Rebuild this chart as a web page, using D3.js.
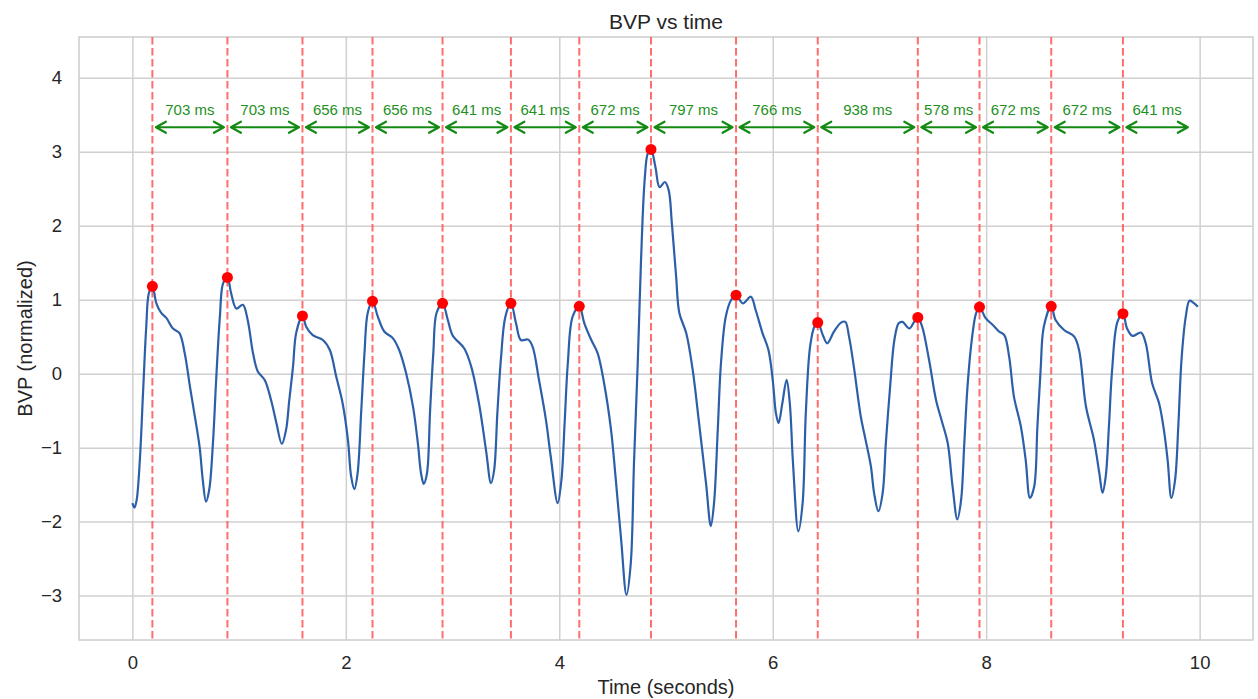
<!DOCTYPE html>
<html>
<head>
<meta charset="utf-8">
<script src="https://cdn.jsdelivr.net/npm/d3@7"></script>
<style>
  body { margin: 0; background: #fff; }
  svg { font-family: "Liberation Sans", Arial, sans-serif; }
</style>
</head>
<body>
<div id="chart"></div>
<script>
// peaks found in the BVP signal (seconds, normalized value)
const peakTimes = [0.1875, 0.890625, 1.59375, 2.25, 2.90625, 3.546875, 4.1875,
  4.859375, 5.65625, 6.421875, 7.359375, 7.9375, 8.609375, 9.28125];
const peakValues = [1.18, 1.30, 0.78, 0.98, 0.95, 0.95, 0.91, 3.03, 1.06, 0.69, 0.76, 0.90, 0.91, 0.81];
const intervalLabels = ["703 ms", "703 ms", "656 ms", "656 ms", "641 ms", "641 ms", "672 ms",
  "797 ms", "766 ms", "938 ms", "578 ms", "672 ms", "672 ms", "641 ms"];

// BVP trace
const signalTime = [0, 0.02, 0.04, 0.07, 0.10, 0.13, 0.155, 0.1875, 0.225, 0.27, 0.32, 0.38, 0.44, 0.49,
  0.54, 0.58, 0.63, 0.66, 0.69, 0.72, 0.755, 0.785, 0.82, 0.85, 0.890625, 0.925, 0.975, 1.035, 1.08,
  1.13, 1.175, 1.24, 1.30, 1.35, 1.40, 1.44, 1.47, 1.505, 1.535, 1.59375, 1.63, 1.69, 1.785, 1.85,
  1.91, 1.97, 2.02, 2.05, 2.08, 2.11, 2.145, 2.175, 2.205, 2.25, 2.30, 2.36, 2.44, 2.50, 2.565, 2.63,
  2.675, 2.705, 2.73, 2.76, 2.79, 2.82, 2.85, 2.90625, 2.955, 3.00, 3.11, 3.175, 3.25, 3.315, 3.36,
  3.39, 3.42, 3.455, 3.495, 3.546875, 3.595, 3.64, 3.71, 3.75, 3.81, 3.875, 3.92, 3.985, 4.02, 4.05,
  4.08, 4.125, 4.1875, 4.235, 4.30, 4.36, 4.42, 4.485, 4.53, 4.58, 4.63, 4.67, 4.70, 4.735, 4.765,
  4.80, 4.83, 4.859375, 4.90, 4.94, 4.99, 5.025, 5.055, 5.095, 5.125, 5.19, 5.25, 5.31, 5.375, 5.42,
  5.45, 5.485, 5.515, 5.56, 5.61, 5.65625, 5.72, 5.795, 5.84, 5.905, 5.96, 6.00, 6.03, 6.055, 6.09,
  6.13, 6.16, 6.19, 6.24, 6.28, 6.31, 6.35, 6.39, 6.421875, 6.47, 6.51, 6.575, 6.64, 6.68, 6.715,
  6.76, 6.825, 6.87, 6.92, 6.95, 6.99, 7.03, 7.06, 7.10, 7.14, 7.18, 7.215, 7.28, 7.325, 7.359375,
  7.40, 7.465, 7.53, 7.59, 7.64, 7.685, 7.73, 7.765, 7.795, 7.825, 7.865, 7.905, 7.9375, 7.995, 8.06,
  8.12, 8.17, 8.215, 8.26, 8.325, 8.37, 8.41, 8.45, 8.48, 8.51, 8.54, 8.609375, 8.65, 8.73, 8.825,
  8.87, 8.935, 9.01, 9.06, 9.09, 9.12, 9.15, 9.18, 9.23, 9.28125, 9.32, 9.37, 9.45, 9.495, 9.555,
  9.62, 9.665, 9.70, 9.735, 9.77, 9.80, 9.83, 9.87, 9.905, 9.94, 9.984];
const signalValue = [-1.75, -1.81, -1.71, -1.17, -0.26, 0.63, 1.09, 1.18, 0.95, 0.82, 0.75, 0.61, 0.55, 0.28,
  -0.18, -0.53, -0.99, -1.44, -1.73, -1.57, -0.94, -0.09, 0.77, 1.22, 1.30, 1.09, 0.88, 0.93, 0.73,
  0.28, 0.03, -0.085, -0.36, -0.67, -0.95, -0.76, -0.36, 0.09, 0.55, 0.78, 0.63, 0.52, 0.455, 0.32,
  -0.04, -0.40, -0.90, -1.39, -1.56, -1.35, -0.49, 0.28, 0.82, 0.98, 0.77, 0.57, 0.48, 0.32, 0.005, -0.45,
  -0.94, -1.35, -1.49, -1.35, -0.49, 0.28, 0.82, 0.95, 0.73, 0.52, 0.34, 0.095, -0.42, -1.05, -1.48,
  -1.30, -0.53, 0.23, 0.77, 0.95, 0.68, 0.455, 0.46, 0.365, -0.085, -0.625, -1.12, -1.75, -1.44, -0.67,
  0.14, 0.77, 0.91, 0.68, 0.455, 0.275, -0.13, -0.76, -1.44, -2.25, -2.99, -2.56, -1.21, 0.14, 1.49,
  2.615, 2.98, 3.03, 2.80, 2.52, 2.59, 2.48, 2.03, 1.31, 0.82, 0.545, 0.05, -0.67, -1.48, -2.06,
  -1.75, -0.76, 0.14, 0.77, 0.995, 1.06, 0.95, 1.04, 0.86, 0.545, 0.32, -0.085, -0.535, -0.67, -0.40,
  -0.085, -0.40, -1.21, -2.13, -1.75, -0.535, 0.365, 0.635, 0.69, 0.52, 0.41, 0.57, 0.69, 0.70, 0.50,
  0.095, -0.58, -0.895, -1.255, -1.615, -1.86, -1.615, -0.94, -0.175, 0.455, 0.68, 0.70, 0.61, 0.70, 0.76,
  0.635, 0.185, -0.355, -0.67, -0.94, -1.525, -1.97, -1.705, -0.94, -0.175, 0.455, 0.815, 0.90, 0.75, 0.66,
  0.57, 0.52, 0.23, -0.31, -0.715, -1.165, -1.68, -1.525, -0.715, 0.05, 0.635, 0.91, 0.725, 0.59, 0.50,
  0.32, -0.445, -0.895, -1.345, -1.61, -1.39, -0.715, 0.05, 0.70, 0.81, 0.61, 0.51, 0.555, 0.41, -0.13,
  -0.40, -0.76, -1.165, -1.68, -1.435, -0.715, 0.185, 0.77, 0.985, 0.96, 0.905];

const xTicks = [0, 2, 4, 6, 8, 10];
const yTicks = [-3, -2, -1, 0, 1, 2, 3, 4];

const W = 1258, H = 699;
const margin = { top: 37, right: 5, bottom: 59, left: 79 };
const width = W - margin.left - margin.right;
const height = H - margin.top - margin.bottom;

const x = d3.scaleLinear().domain([-0.5, 10.5]).range([0, width]);
const y = d3.scaleLinear().domain([-3.6, 4.55]).range([height, 0]);

const svg = d3.select("#chart").append("svg")
  .attr("width", W).attr("height", H);
const g = svg.append("g")
  .attr("transform", "translate(" + margin.left + "," + margin.top + ")");

// grid
g.append("g").attr("class", "grid")
  .attr("transform", "translate(0," + height + ")")
  .call(d3.axisBottom(x).tickValues(xTicks).tickSize(-height).tickFormat(""));
g.append("g").attr("class", "grid")
  .call(d3.axisLeft(y).tickValues(yTicks).tickSize(-width).tickFormat(""));
g.selectAll(".grid .domain").remove();
g.selectAll(".grid line").attr("stroke", "#d0d0d0").attr("stroke-width", 1.5);

// frame
g.append("rect").attr("width", width).attr("height", height)
  .attr("fill", "none").attr("stroke", "#cccccc").attr("stroke-width", 1.5);

// tick labels
const xAxis = g.append("g")
  .attr("transform", "translate(0," + height + ")")
  .call(d3.axisBottom(x).tickValues(xTicks).tickSize(0).tickPadding(16).tickFormat(d3.format("d")));
const yAxis = g.append("g")
  .call(d3.axisLeft(y).tickValues(yTicks).tickSize(0).tickPadding(17).tickFormat(d3.format("d")));
[xAxis, yAxis].forEach(a => {
  a.select(".domain").remove();
  a.selectAll("text").attr("font-size", 18.5).attr("fill", "#262626")
    .attr("font-family", "Liberation Sans, Arial, sans-serif");
});

// peak markers
g.selectAll(".peakline").data(peakTimes).enter().append("line")
  .attr("x1", d => x(d)).attr("x2", d => x(d))
  .attr("y1", 0).attr("y2", height)
  .attr("stroke", "#ff5555").attr("stroke-opacity", 0.85)
  .attr("stroke-width", 2).attr("stroke-dasharray", "7.5,3.5");

// signal
const line = d3.line()
  .x((d, i) => x(signalTime[i]))
  .y(d => y(d))
  .curve(d3.curveCatmullRom.alpha(0.5));
g.append("path").datum(signalValue)
  .attr("d", line)
  .attr("fill", "none").attr("stroke", "#2d5fa9").attr("stroke-width", 2.2)
  .attr("stroke-linejoin", "round");

g.selectAll(".peak").data(peakTimes).enter().append("circle")
  .attr("cx", d => x(d)).attr("cy", (d, i) => y(peakValues[i]))
  .attr("r", 5.5).attr("fill", "#ff0000");

// interval arrows
const arrowY = y(3.33), gap = 3.5, headL = 10, headW = 5.5;
const arrows = g.append("g").attr("stroke", "#138a13").attr("stroke-width", 2.2)
  .attr("fill", "none").attr("stroke-linecap", "round").attr("stroke-linejoin", "round");
intervalLabels.forEach((lbl, i) => {
  const t0 = peakTimes[i];
  const t1 = i + 1 < peakTimes.length ? peakTimes[i + 1] : peakTimes[i] + 0.641;
  const x0 = x(t0) + gap, x1 = x(t1) - gap;
  arrows.append("path")
    .attr("d", "M" + x0 + "," + arrowY + "L" + x1 + "," + arrowY +
      "M" + (x0 + headL) + "," + (arrowY - headW) + "L" + x0 + "," + arrowY + "L" + (x0 + headL) + "," + (arrowY + headW) +
      "M" + (x1 - headL) + "," + (arrowY - headW) + "L" + x1 + "," + arrowY + "L" + (x1 - headL) + "," + (arrowY + headW));
  g.append("text")
    .attr("x", (x(t0) + x(t1)) / 2).attr("y", y(3.49))
    .attr("text-anchor", "middle").attr("font-size", 15).attr("fill", "#1e901e")
    .text(lbl);
});

// labels
svg.append("text").attr("x", margin.left + width / 2).attr("y", 29)
  .attr("text-anchor", "middle").attr("font-size", 21).attr("fill", "#262626")
  .text("BVP vs time");
svg.append("text").attr("x", margin.left + width / 2).attr("y", 694)
  .attr("text-anchor", "middle").attr("font-size", 20).attr("fill", "#262626")
  .text("Time (seconds)");
svg.append("text")
  .attr("transform", "translate(32," + (margin.top + height / 2) + ") rotate(-90)")
  .attr("text-anchor", "middle").attr("font-size", 20).attr("fill", "#262626")
  .text("BVP (normalized)");
</script>
</body>
</html>
